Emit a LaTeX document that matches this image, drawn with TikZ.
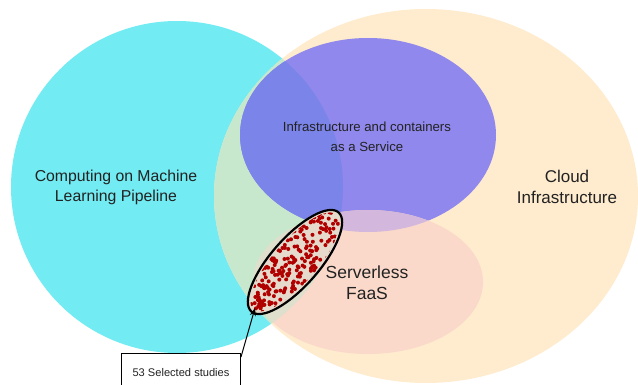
\documentclass[tikz,border=0pt]{standalone}
\usepackage{fontspec}
\setmainfont{Liberation Sans}
\usetikzlibrary{arrows.meta,shapes.geometric}
\definecolor{cyanc}{HTML}{72EBF2}
\definecolor{orangec}{HTML}{FFEBCD}
\definecolor{greenc}{HTML}{C8E8CE}
\definecolor{bluec}{HTML}{9088EC}
\definecolor{bluecy}{HTML}{7B84E8}
\definecolor{salmonc}{HTML}{FAD9CA}
\definecolor{salmoncy}{HTML}{DEDFCC}
\definecolor{lilacc}{HTML}{D3B7DD}
\definecolor{selfill}{HTML}{E6DACC}
\definecolor{dotred}{HTML}{B00000}
\definecolor{txt}{HTML}{222222}
\def\cyanpath{(177,187) circle [radius=166pt]}
\def\orangepath{(426,196) ellipse [x radius=212pt, y radius=187pt]}
\def\bluepath{(368,135) ellipse [x radius=128pt, y radius=97pt]}
\def\salmonpath{(368,282) ellipse [x radius=115pt, y radius=72pt]}
\begin{document}
\begin{tikzpicture}[x=1pt,y=-1pt,
  lbl/.style={text=txt, align=center, inner sep=0pt},
  selbox/.style={draw=black, line width=1pt, minimum width=119pt, minimum height=39pt, anchor=north west, inner sep=0pt, text=txt}]
\useasboundingbox (0,0) rectangle (638,385);
% base sets
\fill[cyanc] \cyanpath;
\fill[orangec] \orangepath;
\begin{scope}\clip \cyanpath; \fill[greenc] \orangepath; \end{scope}
\fill[bluec] \bluepath;
\begin{scope}\clip \cyanpath; \fill[bluecy] \bluepath; \end{scope}
\fill[salmonc] \salmonpath;
\begin{scope}\clip \cyanpath; \fill[salmoncy] \salmonpath; \end{scope}
\begin{scope}\clip \bluepath; \fill[lilacc] \salmonpath; \end{scope}
% selected studies ellipse
\fill[selfill, rotate around={48.7:(295,262)}] (295,262) ellipse [x radius=66pt, y radius=24pt];
\begin{scope}
\clip[rotate around={48.7:(295,262)}] (295,262) ellipse [x radius=63pt, y radius=21.5pt];
\pgfmathsetseed{7}
\foreach \i in {1,...,400} {
  \pgfmathsetmacro\px{295+rand*45}
  \pgfmathsetmacro\py{262+rand*50}
  \fill[dotred] (\px,\py) circle [radius=2pt];
}
\end{scope}
\draw[black, line width=2.2pt, rotate around={48.7:(295,262)}] (295,262) ellipse [x radius=66pt, y radius=24pt];
\coordinate (tip) at (255,308);
% labels
\node[lbl, font=\fontsize{15.8}{20}\selectfont] (ml) at (116,187) {Computing on Machine\\Learning Pipeline};
\node[lbl, font=\fontsize{13.2}{20}\selectfont] (iaas) at (367,137) {Infrastructure and containers\\as a Service};
\node[lbl, font=\fontsize{17}{21}\selectfont] (cloud) at (567,186.5) {Cloud\\Infrastructure};
\node[lbl, font=\fontsize{17.5}{21}\selectfont] (faas) at (367,282.5) {Serverless\\FaaS};
\node[selbox, font=\fontsize{11.1}{13}\selectfont] (box) at (121,353) {53 Selected studies};
\draw[-{Stealth[length=8pt,width=6pt]}, line width=1pt] ([yshift=-4pt]box.north east) -- (tip);
\end{tikzpicture}
\end{document}
